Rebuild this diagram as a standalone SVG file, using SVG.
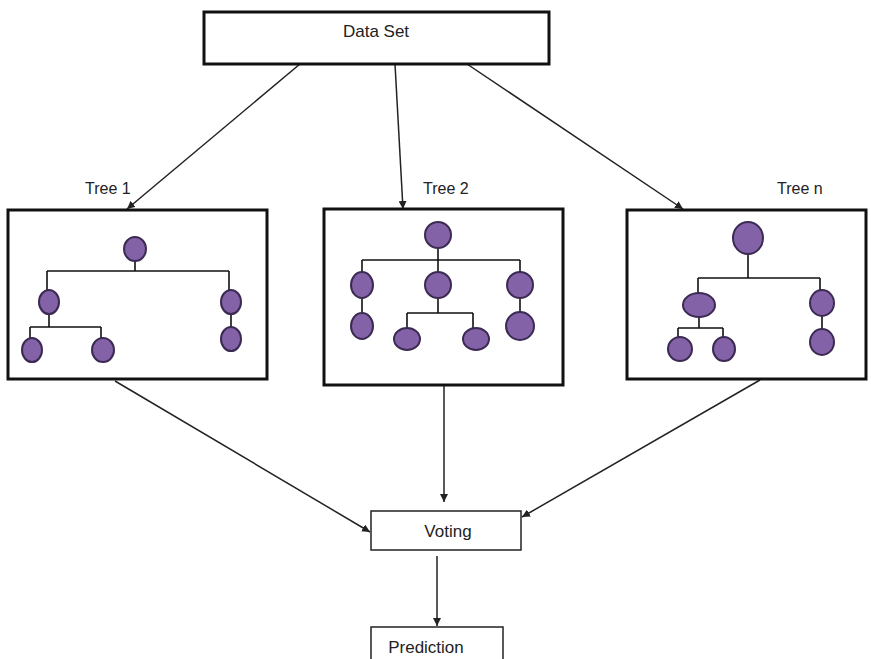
<svg xmlns="http://www.w3.org/2000/svg" width="871" height="659" viewBox="0 0 871 659">
<defs>
<marker id="arr" viewBox="0 0 10 10" refX="10" refY="5" markerWidth="8" markerHeight="8" markerUnits="userSpaceOnUse" orient="auto">
<path d="M0,0 L10,5 L0,10 z" fill="#222"/>
</marker>
</defs>
<style>
.box{fill:#fff;stroke:#111;stroke-width:3}
.sbox{fill:#fff;stroke:#222;stroke-width:1.5}
.conn{stroke:#222;stroke-width:1.5;fill:none;marker-end:url(#arr)}
.edge{stroke:#111;stroke-width:1.6;fill:none}
.nd{fill:#8462a8;stroke:#3b2a52;stroke-width:2}
text{font-family:"Liberation Sans",Arial,sans-serif;fill:#222}
.lbl{font-size:16px}
.t{font-size:17px}
</style>
<rect width="871" height="659" fill="#fff"/>

<g id="connectors">
<line class="conn" x1="300" y1="64" x2="127" y2="209"/>
<line class="conn" x1="395" y1="64" x2="403" y2="209"/>
<line class="conn" x1="467" y1="64" x2="683" y2="209"/>
<line class="conn" x1="115" y1="381" x2="370" y2="532"/>
<line class="conn" x1="444" y1="385" x2="444" y2="502"/>
<line class="conn" x1="760" y1="380" x2="522" y2="517"/>
<line class="conn" x1="437" y1="556" x2="437" y2="626"/>
</g>

<g id="dataset">
<rect class="box" x="204" y="12" width="345" height="52"/>
<text class="t" x="376" y="37" text-anchor="middle">Data Set</text>
</g>

<g id="tree1">
<text class="lbl" x="85" y="194">Tree 1</text>
<rect class="box" x="8" y="210" width="259" height="169"/>
<path class="edge" d="M135,261 V271 M47,271 H229 M47,271 V290 M229,271 V290 M49,314 V327 M30,327 H101 M30,327 V338 M101,327 V338 M231,314 V327"/>
<ellipse class="nd" cx="135" cy="249" rx="11" ry="12"/>
<ellipse class="nd" cx="49" cy="302" rx="10" ry="12"/>
<ellipse class="nd" cx="231" cy="302" rx="10" ry="12"/>
<ellipse class="nd" cx="32" cy="350" rx="10" ry="12"/>
<ellipse class="nd" cx="103" cy="350" rx="11" ry="12"/>
<ellipse class="nd" cx="231" cy="339" rx="10" ry="12"/>
</g>

<g id="tree2">
<text class="lbl" x="423" y="194">Tree 2</text>
<rect class="box" x="324" y="209" width="239" height="176"/>
<path class="edge" d="M438,248 V272 M362,260 H520 M362,260 V272 M520,260 V272 M362,298 V313 M520,298 V312 M438,298 V313 M407,313 H473 M407,313 V328 M473,313 V328"/>
<ellipse class="nd" cx="438" cy="235" rx="13" ry="13"/>
<ellipse class="nd" cx="362" cy="285" rx="11" ry="13"/>
<ellipse class="nd" cx="438" cy="285" rx="13" ry="13"/>
<ellipse class="nd" cx="520" cy="285" rx="13" ry="13"/>
<ellipse class="nd" cx="362" cy="326" rx="11" ry="13"/>
<ellipse class="nd" cx="520" cy="326" rx="14" ry="14"/>
<ellipse class="nd" cx="407" cy="339" rx="13" ry="11"/>
<ellipse class="nd" cx="476" cy="339" rx="13" ry="11"/>
</g>

<g id="treen">
<text class="lbl" x="777" y="194">Tree n</text>
<rect class="box" x="627" y="210" width="239" height="169"/>
<path class="edge" d="M748,254 V278 M698,278 H820 M698,278 V293 M820,278 V290 M699,317 V328 M678,328 H723 M678,328 V337 M723,328 V337 M822,316 V329"/>
<ellipse class="nd" cx="748" cy="238" rx="15" ry="16"/>
<ellipse class="nd" cx="699" cy="305" rx="16" ry="12"/>
<ellipse class="nd" cx="822" cy="303" rx="12" ry="13"/>
<ellipse class="nd" cx="680" cy="349" rx="12" ry="12"/>
<ellipse class="nd" cx="724" cy="349" rx="11" ry="12"/>
<ellipse class="nd" cx="822" cy="342" rx="12" ry="13"/>
</g>

<g id="voting">
<rect class="sbox" x="371" y="511" width="150" height="39"/>
<text class="t" x="448" y="537" text-anchor="middle">Voting</text>
</g>

<g id="prediction">
<rect class="sbox" x="371" y="627" width="132" height="40"/>
<text class="t" x="426" y="653" text-anchor="middle">Prediction</text>
</g>
</svg>
